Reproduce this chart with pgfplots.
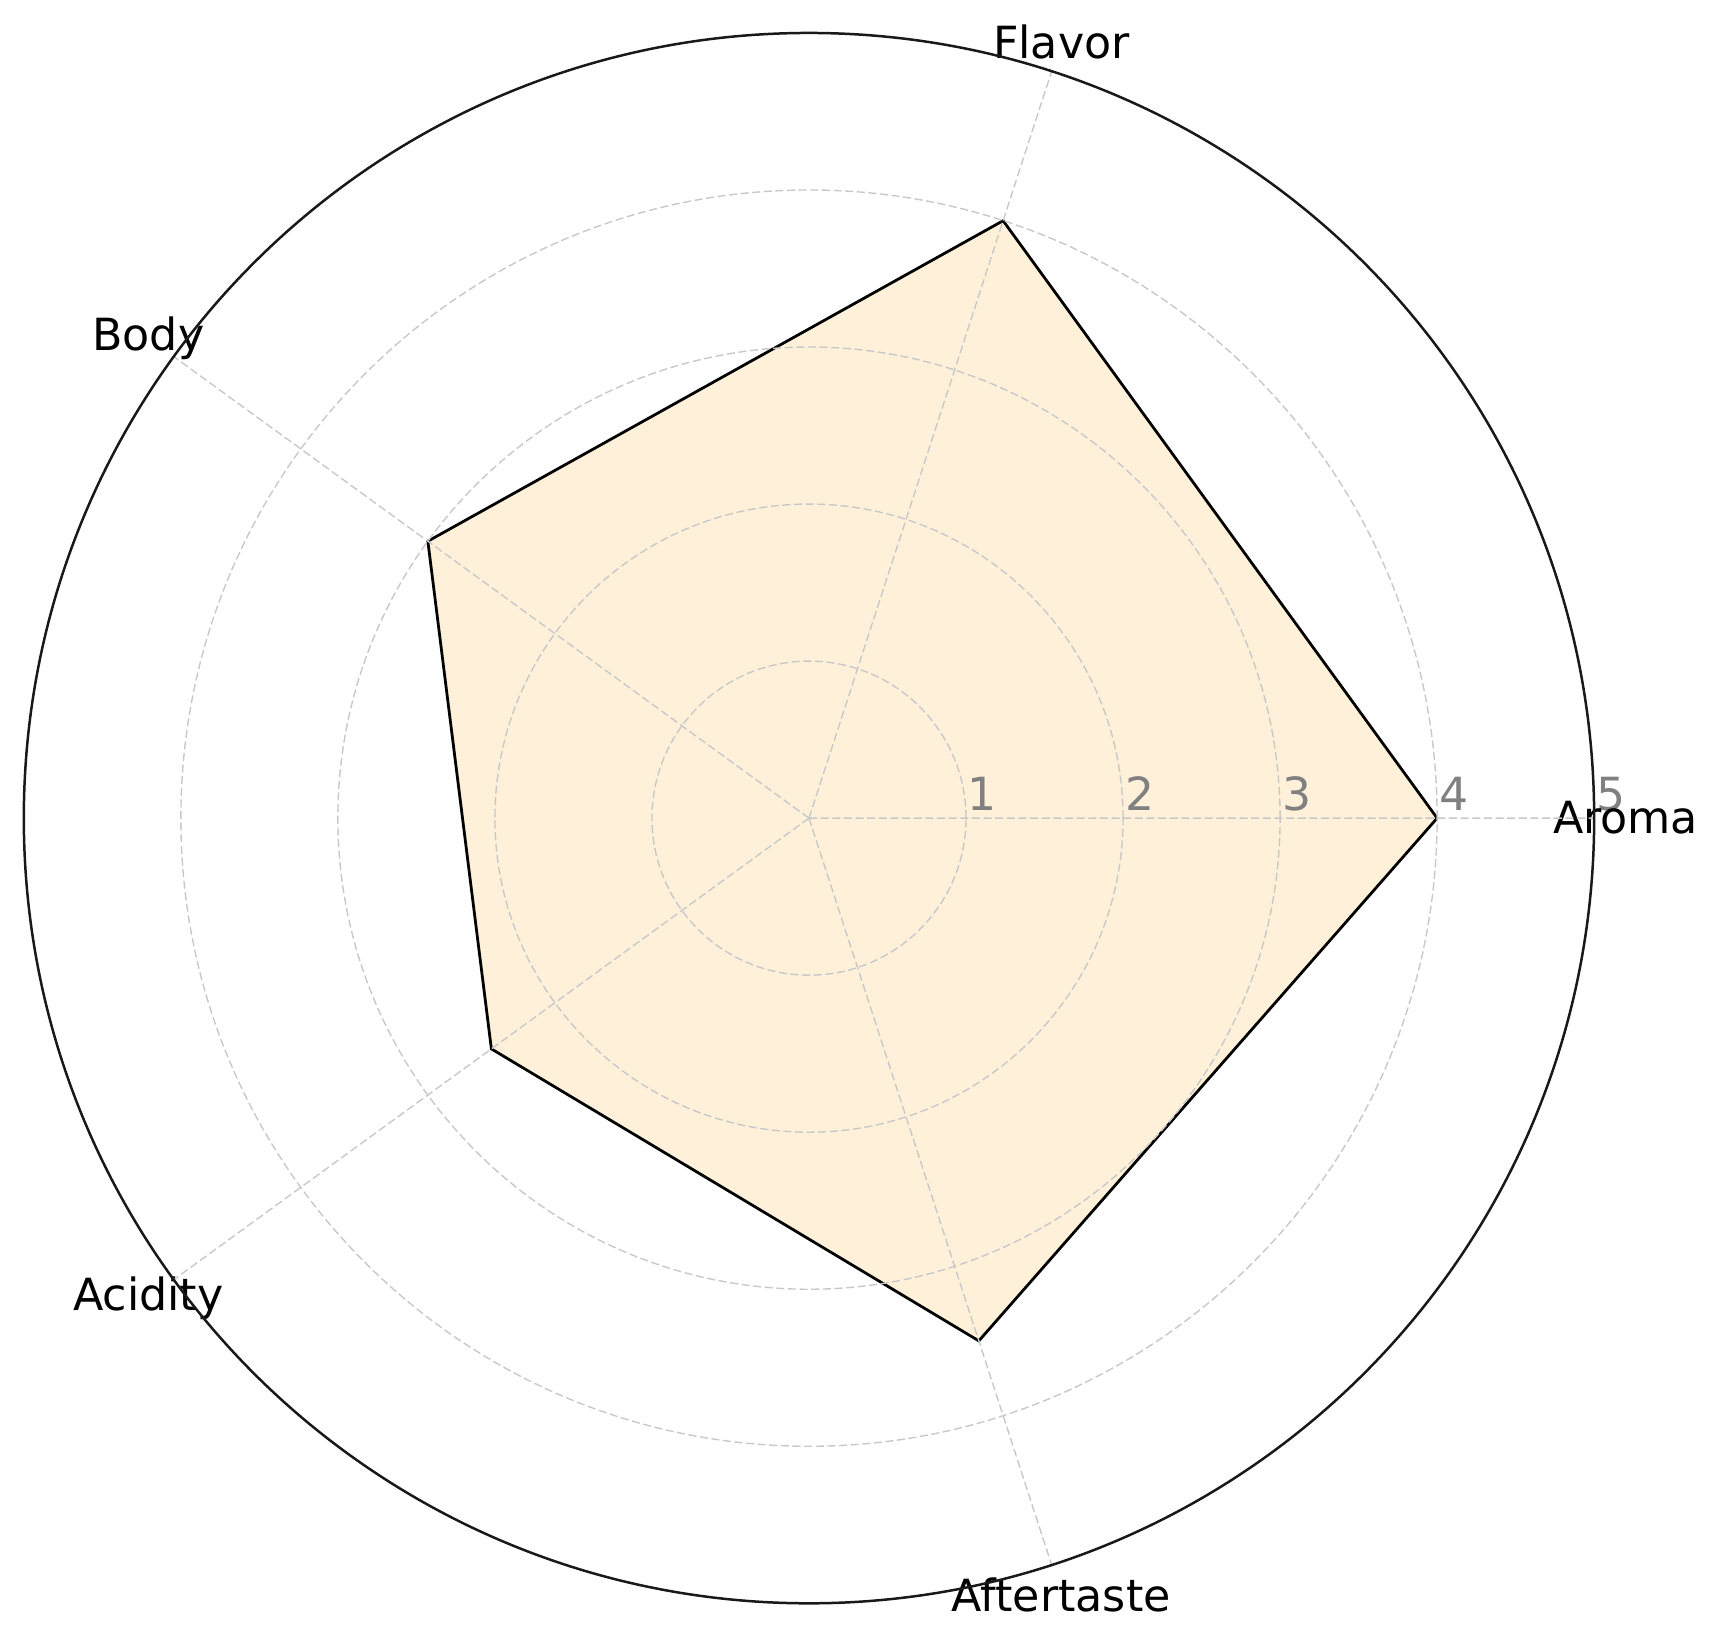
\documentclass[border=0pt]{standalone}
\usepackage{pgfplots}
\pgfplotsset{compat=1.18}
\usepgfplotslibrary{polar}
\usepackage{fontspec}
\setmainfont{DejaVu Sans}
\definecolor{fillc}{RGB}{254,240,217}
\definecolor{gridc}{RGB}{200,200,200}
\definecolor{tickc}{RGB}{128,128,128}
\tikzset{
  rl/.style={anchor=base west, inner sep=0pt, xshift=0.5pt, yshift=2.9pt, text=tickc, font=\fontsize{16.5}{19}\selectfont},
  al/.style={font=\fontsize{16}{19}\selectfont},
}
\begin{document}
\begin{tikzpicture}
\begin{polaraxis}[
  scale only axis, width=566.8pt, height=566.8pt,
  ymin=0, ymax=5,
  xtick={0,72,144,216,288},
  ytick={1,2,3,4,5},
  xticklabels={}, yticklabels={},
  major tick length=0pt,
  xmajorgrids, ymajorgrids,
  major grid style={draw=gridc, line width=0.5pt, dash pattern=on 2.9pt off 1.3pt},
  axis line style={draw=black!90, line width=0.9pt},
  y axis line style={draw=none},
  axis on top,
  clip=false,
]
\addplot[draw=black, line width=1pt, fill=fillc] coordinates {(0,4) (72,4) (144,3) (216,2.5) (288,3.5) (360,4)};
\coordinate (c) at (axis cs:0,0);
\node[rl] at (axis cs:0,1) {1};
\node[rl] at (axis cs:0,2) {2};
\node[rl] at (axis cs:0,3) {3};
\node[rl] at (axis cs:0,4) {4};
\node[rl] at (axis cs:0,5) {5};
\node[al] at (axis cs:0,5.2) {Aroma};
\node[al] at (axis cs:72,5.2) {Flavor};
\node[al] at (axis cs:144,5.2) {Body};
\node[al] at (axis cs:216,5.2) {Acidity};
\node[al] at (axis cs:288,5.2) {Aftertaste};
\end{polaraxis}
\pgfresetboundingbox
\path (c) ++(-292pt,-296pt) rectangle ++(620.1pt,591.3pt);
\end{tikzpicture}
\end{document}
